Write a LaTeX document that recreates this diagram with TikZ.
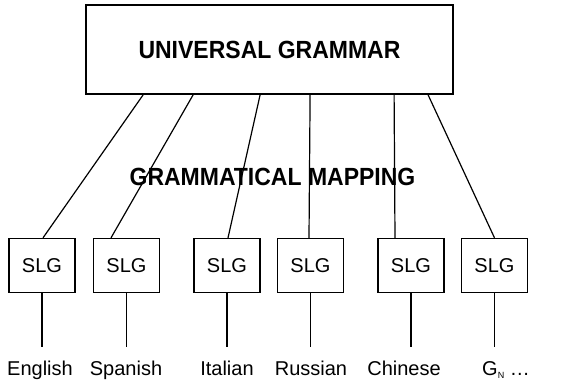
\documentclass[tikz,border=0pt]{standalone}
\usepackage{fontspec}
\setmainfont{Liberation Sans}
\usetikzlibrary{calc}
\begin{document}
\begin{tikzpicture}[x=1pt,y=-1pt,
  ugbox/.style={draw,line width=1.8pt,minimum width=367pt,minimum height=89pt,inner sep=0pt,font=\fontsize{23}{23}\selectfont\bfseries},
  slgbox/.style={draw,line width=1.3pt,minimum width=66pt,minimum height=54pt,inner sep=0pt,font=\fontsize{20}{20}\selectfont},
  lang/.style={anchor=base,inner xsep=0pt,inner ysep=13pt,text height=15pt,font=\fontsize{20}{20}\selectfont},
  conn/.style={line width=1.2pt}]
\useasboundingbox (0,0) rectangle (563,384);
\node[ugbox] (ug) at (269.5,49.5) {\scalebox{1}[1.08]{UNIVERSAL GRAMMAR}};
\node[font=\fontsize{23}{23}\selectfont\bfseries] (gm) at (272.5,177) {\scalebox{1}[1.08]{GRAMMATICAL MAPPING}};
\node[slgbox] (s1) at (42,265.5) {SLG};
\node[slgbox] (s2) at (126.5,265.5) {SLG};
\node[slgbox] (s3) at (227,265.5) {SLG};
\node[slgbox] (s4) at (310.5,265.5) {SLG};
\node[slgbox] (s5) at (411,265.5) {SLG};
\node[slgbox] (s6) at (494.5,265.5) {SLG};
\node[lang] (l1) at (40,375) {English};
\node[lang] (l2) at (126,375) {Spanish};
\node[lang] (l3) at (227,375) {Italian};
\node[lang] (l4) at (311,375) {Russian};
\node[lang] (l5) at (404,375) {Chinese};
\node[lang] (l6) at (506,375) {G\raisebox{-3pt}{\fontsize{9}{9}\selectfont N} …};
\draw[conn] ($(ug.south west)+(58,0)$) -- ($(s1.north)+(1,0)$);
\draw[conn] ($(ug.south west)+(108,0)$) -- ($(s2.north)+(-15.5,0)$);
\draw[conn] ($(ug.south west)+(175,0)$) -- ($(s3.north)+(1,0)$);
\draw[conn] ($(ug.south west)+(225,0)$) -- ($(s4.north)+(-1.5,0)$);
\draw[conn] ($(ug.south west)+(309,0)$) -- ($(s5.north)+(-16,0)$);
\draw[conn] ($(ug.south west)+(343,0)$) -- ($(s6.north)+(0,0)$);
\foreach \i in {1,...,6}{\draw[conn] (s\i.south) -- (s\i.south |- l\i.north);}
\end{tikzpicture}
\end{document}
